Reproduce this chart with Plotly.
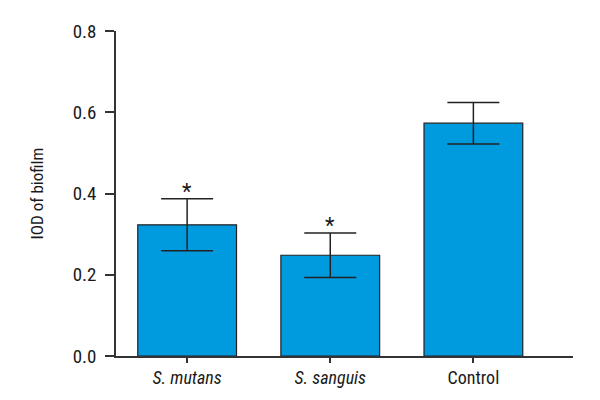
import plotly.graph_objects as go

categories = ["<i>S. mutans</i>", "<i>S. sanguis</i>", "Control"]
means = [0.323, 0.248, 0.573]
errors = [0.064, 0.055, 0.051]
significant = [True, True, False]
ytick_vals = [0.0, 0.2, 0.4, 0.6, 0.8]
ytick_text = ["0.0", "0.2", "0.4", "0.6", "0.8"]

FONT = "Roboto Condensed, DejaVu Sans Condensed, sans-serif"
AX = "#333333"
TXT = "#1a1a1a"

xpos = list(range(len(categories)))

fig = go.Figure()
fig.add_trace(go.Bar(
    x=xpos, y=means, width=0.69,
    marker=dict(color="#009ADF", line=dict(color="#222222", width=1.2)),
    error_y=dict(type="data", array=errors, visible=True, color="#222222",
                 thickness=1.5, width=26),
))

for xi, m, e, s in zip(xpos, means, errors, significant):
    if s:
        fig.add_annotation(x=xi, y=m + e, text="*", showarrow=False,
                           yanchor="bottom", yshift=-7,
                           font=dict(family=FONT, size=22, color=TXT))

fig.add_annotation(xref="paper", yref="paper", x=-0.173, y=0.5,
                   text="IOD of biofilm", textangle=-90, showarrow=False,
                   xanchor="center", yanchor="middle",
                   font=dict(family=FONT, size=17, color=TXT))

# page body has an 8px margin, so figure is 8px smaller and margins shifted
fig.update_layout(
    width=592, height=392,
    margin=dict(l=108, r=27, t=12, b=44, pad=0),
    paper_bgcolor="white", plot_bgcolor="white",
    showlegend=False,
    font=dict(family=FONT, size=18, color=TXT),
    xaxis=dict(range=[-0.497, 2.696], tickvals=xpos, ticktext=categories,
               showline=True, linecolor=AX, linewidth=1.5,
               ticks="outside", ticklen=5, tickwidth=1.5, tickcolor=AX,
               showgrid=False, zeroline=False, fixedrange=True,
               tickfont=dict(family=FONT, size=18, color=TXT)),
    yaxis=dict(range=[0, 0.8], tickvals=ytick_vals, ticktext=ytick_text,
               showline=True, linecolor=AX, linewidth=1.5,
               ticks="outside", ticklen=9, tickwidth=1.5, tickcolor=AX,
               ticklabelstandoff=5,
               showgrid=False, zeroline=False, fixedrange=True,
               tickfont=dict(family=FONT, size=19, color=TXT)),
)

fig.write_html("out.html")
